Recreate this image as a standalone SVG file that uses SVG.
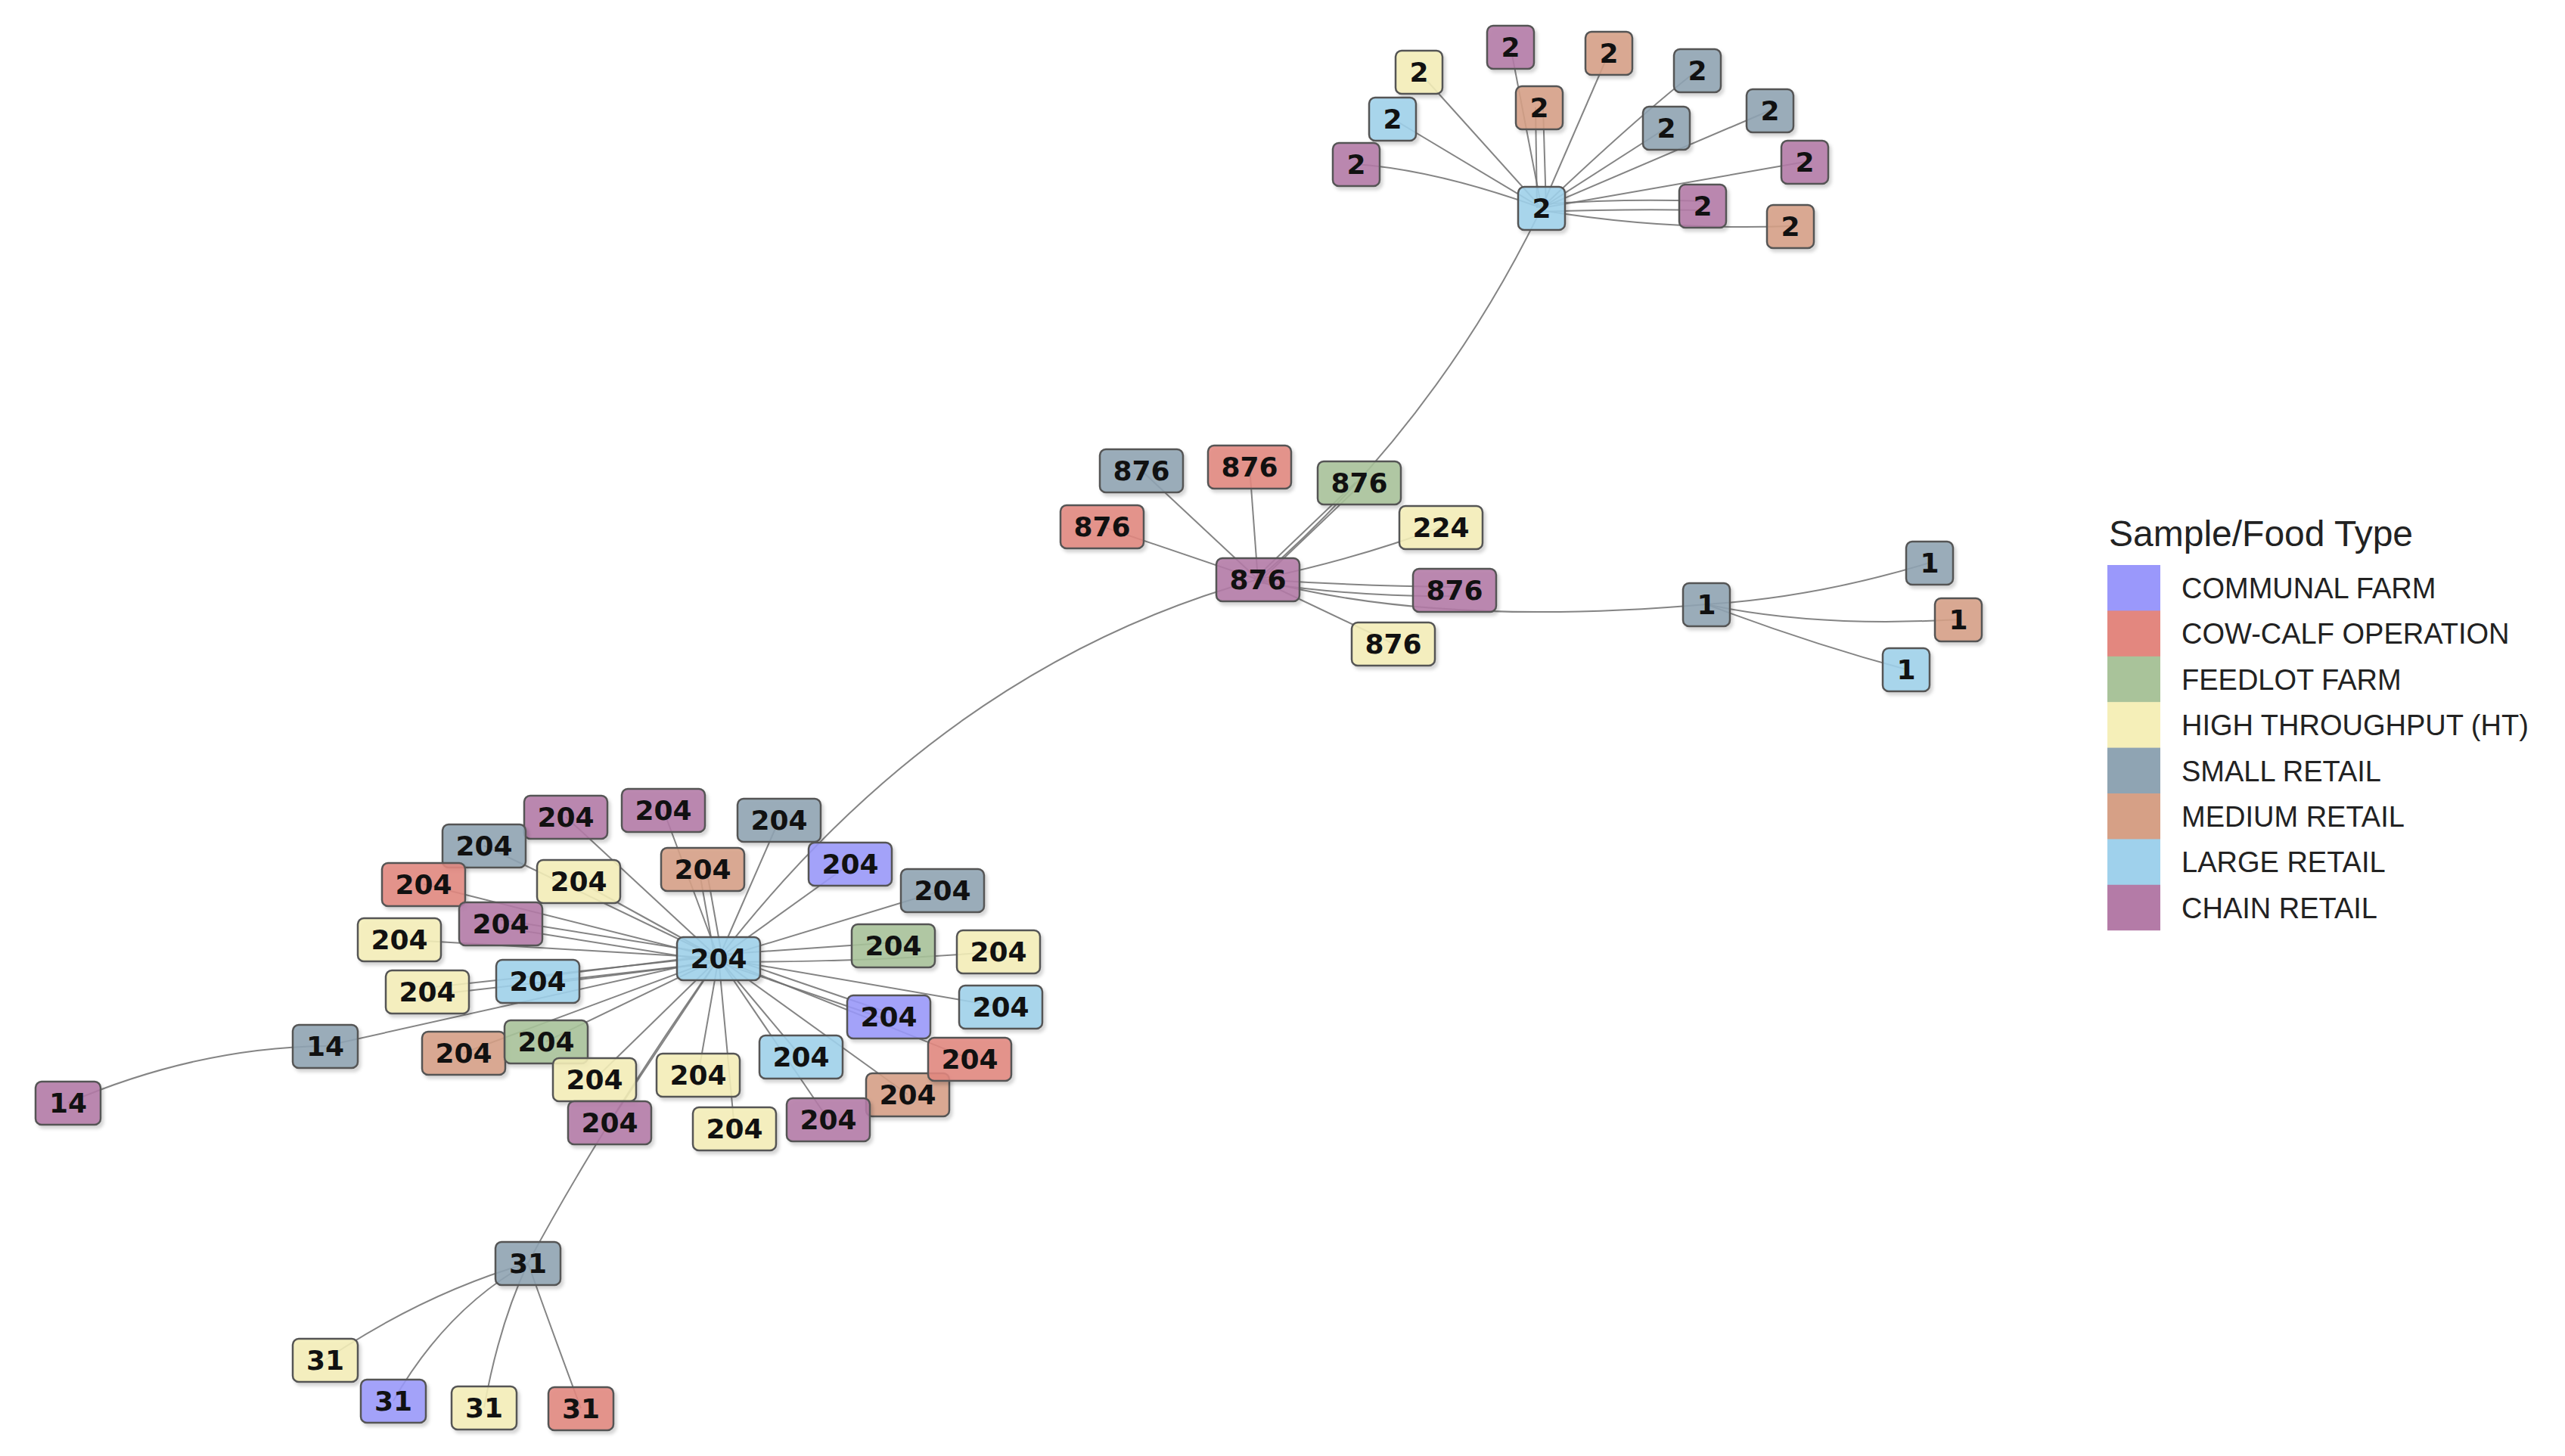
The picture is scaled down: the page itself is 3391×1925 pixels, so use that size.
<svg xmlns="http://www.w3.org/2000/svg" width="3391" height="1925" viewBox="0 0 3391 1925">
<defs>
<filter id="sh" x="-20%" y="-20%" width="150%" height="150%"><feDropShadow dx="3" dy="4" stdDeviation="2" flood-color="#000" flood-opacity="0.18"/></filter>
</defs>
<style>
.e{fill:none;stroke:#6e6e6e;stroke-width:2;stroke-opacity:0.85}
.node rect{stroke:#555;stroke-width:2.5;fill-opacity:0.88;filter:url(#sh)}
.node text{font-family:"DejaVu Sans",sans-serif;font-weight:bold;font-size:36px;fill:#111;text-anchor:middle}
.cf{fill:#9a98fb}.cc{fill:#e3877f}.fl{fill:#a9c39a}.ht{fill:#f5efb8}.sr{fill:#8fa4b3}.mr{fill:#d6a086}.lr{fill:#9fd1ec}.ch{fill:#b47ba7}
.lg{font-family:"Liberation Sans",Arial,sans-serif;fill:#222}
.ll{font-size:38px}
</style>
<rect width="3391" height="1925" fill="#fff"/>
<g id="connectors">
<path class="e" d="M2038,275 L1876,95"/>
<path class="e" d="M2038,275 L1997,62"/>
<path class="e" d="M2038,275 L2127,70"/>
<path class="e" d="M2038,275 Q2170,150 2244,93"/>
<path class="e" d="M2038,275 L1841,157"/>
<path class="e" d="M2032,275 L2030,142"/>
<path class="e" d="M2044,275 L2040,142"/>
<path class="e" d="M2038,275 L2203,169"/>
<path class="e" d="M2038,275 L2340,146"/>
<path class="e" d="M2038,275 Q1900,225 1793,217"/>
<path class="e" d="M2038,275 L2386,214"/>
<path class="e" d="M2038,270 Q2150,262 2251,266"/>
<path class="e" d="M2038,280 Q2150,276 2251,278"/>
<path class="e" d="M2038,278 Q2200,305 2367,299"/>
<path class="e" d="M2038,275 Q1900,560 1663,766"/>
<path class="e" d="M1663,766 L1509,622"/>
<path class="e" d="M1663,766 L1652,617"/>
<path class="e" d="M1658,766 L1792,638"/>
<path class="e" d="M1668,766 L1802,638"/>
<path class="e" d="M1663,766 L1457,696"/>
<path class="e" d="M1663,766 Q1790,740 1905,697"/>
<path class="e" d="M1663,766 Q1800,775 1923,776"/>
<path class="e" d="M1663,770 Q1800,790 1923,788"/>
<path class="e" d="M1663,766 L1842,851"/>
<path class="e" d="M1663,766 Q1900,830 2256,799"/>
<path class="e" d="M2256,799 Q2400,790 2551,744"/>
<path class="e" d="M2256,799 Q2400,830 2589,819"/>
<path class="e" d="M2256,799 Q2390,850 2520,885"/>
<path class="e" d="M950,1267 Q1250,880 1663,766"/>
<path class="e" d="M950,1267 L748,1080"/>
<path class="e" d="M950,1267 L877,1071"/>
<path class="e" d="M950,1267 L1030,1084"/>
<path class="e" d="M950,1267 L640,1118"/>
<path class="e" d="M945,1267 L924,1149"/>
<path class="e" d="M955,1267 L934,1149"/>
<path class="e" d="M950,1267 L1124,1142"/>
<path class="e" d="M950,1267 L1246,1177"/>
<path class="e" d="M950,1267 L560,1169"/>
<path class="e" d="M950,1267 L765,1165"/>
<path class="e" d="M950,1262 L662,1216"/>
<path class="e" d="M950,1272 L662,1226"/>
<path class="e" d="M950,1267 L528,1242"/>
<path class="e" d="M950,1262 L1181,1246"/>
<path class="e" d="M950,1272 Q1150,1272 1320,1258"/>
<path class="e" d="M950,1264 L565,1306"/>
<path class="e" d="M950,1272 L565,1316"/>
<path class="e" d="M950,1262 L711,1292"/>
<path class="e" d="M950,1272 L711,1302"/>
<path class="e" d="M950,1262 L1175,1339"/>
<path class="e" d="M950,1272 L1175,1349"/>
<path class="e" d="M950,1267 L1323,1331"/>
<path class="e" d="M950,1267 L613,1392"/>
<path class="e" d="M950,1267 L722,1377"/>
<path class="e" d="M950,1267 L1282,1400"/>
<path class="e" d="M950,1267 L1059,1397"/>
<path class="e" d="M950,1267 L786,1427"/>
<path class="e" d="M950,1267 L923,1421"/>
<path class="e" d="M950,1267 L1200,1447"/>
<path class="e" d="M950,1267 L1095,1480"/>
<path class="e" d="M950,1267 L971,1492"/>
<path class="e" d="M950,1267 L806,1484"/>
<path class="e" d="M950,1267 L430,1383"/>
<path class="e" d="M950,1267 Q800,1480 698,1670"/>
<path class="e" d="M430,1383 Q260,1385 90,1458"/>
<path class="e" d="M698,1670 Q560,1710 430,1798"/>
<path class="e" d="M698,1670 Q590,1730 520,1852"/>
<path class="e" d="M698,1670 Q660,1750 640,1861"/>
<path class="e" d="M698,1670 Q730,1760 768,1862"/>
</g>
<g id="nodes">
<g id="n2_hub" class="node"><rect class="lr" x="2007" y="247" width="62" height="57" rx="8"/><text x="2038" y="288">2</text></g>
<g id="n2_y" class="node"><rect class="ht" x="1845" y="67" width="62" height="57" rx="8"/><text x="1876" y="108">2</text></g>
<g id="n2_pa" class="node"><rect class="ch" x="1966" y="34" width="62" height="57" rx="8"/><text x="1997" y="75">2</text></g>
<g id="n2_oa" class="node"><rect class="mr" x="2096" y="42" width="62" height="57" rx="8"/><text x="2127" y="83">2</text></g>
<g id="n2_ga" class="node"><rect class="sr" x="2213" y="65" width="62" height="57" rx="8"/><text x="2244" y="106">2</text></g>
<g id="n2_b" class="node"><rect class="lr" x="1810" y="129" width="62" height="57" rx="8"/><text x="1841" y="170">2</text></g>
<g id="n2_ob" class="node"><rect class="mr" x="2004" y="114" width="62" height="57" rx="8"/><text x="2035" y="155">2</text></g>
<g id="n2_gb" class="node"><rect class="sr" x="2172" y="141" width="62" height="57" rx="8"/><text x="2203" y="182">2</text></g>
<g id="n2_gc" class="node"><rect class="sr" x="2309" y="118" width="62" height="57" rx="8"/><text x="2340" y="159">2</text></g>
<g id="n2_pb" class="node"><rect class="ch" x="1762" y="189" width="62" height="57" rx="8"/><text x="1793" y="230">2</text></g>
<g id="n2_pc" class="node"><rect class="ch" x="2355" y="186" width="62" height="57" rx="8"/><text x="2386" y="227">2</text></g>
<g id="n2_pd" class="node"><rect class="ch" x="2220" y="244" width="62" height="57" rx="8"/><text x="2251" y="285">2</text></g>
<g id="n2_oc" class="node"><rect class="mr" x="2336" y="271" width="62" height="57" rx="8"/><text x="2367" y="312">2</text></g>

<g id="n876_hub" class="node"><rect class="ch" x="1608" y="738" width="110" height="57" rx="8"/><text x="1663" y="779">876</text></g>
<g id="n876_g" class="node"><rect class="sr" x="1454" y="594" width="110" height="57" rx="8"/><text x="1509" y="635">876</text></g>
<g id="n876_r1" class="node"><rect class="cc" x="1597" y="589" width="110" height="57" rx="8"/><text x="1652" y="630">876</text></g>
<g id="n876_gr" class="node"><rect class="fl" x="1742" y="610" width="110" height="57" rx="8"/><text x="1797" y="651">876</text></g>
<g id="n876_r2" class="node"><rect class="cc" x="1402" y="668" width="110" height="57" rx="8"/><text x="1457" y="709">876</text></g>
<g id="n224" class="node"><rect class="ht" x="1850" y="669" width="110" height="57" rx="8"/><text x="1905" y="710">224</text></g>
<g id="n876_p" class="node"><rect class="ch" x="1868" y="752" width="110" height="57" rx="8"/><text x="1923" y="793">876</text></g>
<g id="n876_y" class="node"><rect class="ht" x="1787" y="823" width="110" height="57" rx="8"/><text x="1842" y="864">876</text></g>

<g id="n1_hub" class="node"><rect class="sr" x="2225" y="771" width="62" height="57" rx="8"/><text x="2256" y="812">1</text></g>
<g id="n1_g" class="node"><rect class="sr" x="2520" y="716" width="62" height="57" rx="8"/><text x="2551" y="757">1</text></g>
<g id="n1_o" class="node"><rect class="mr" x="2558" y="791" width="62" height="57" rx="8"/><text x="2589" y="832">1</text></g>
<g id="n1_b" class="node"><rect class="lr" x="2489" y="857" width="62" height="57" rx="8"/><text x="2520" y="898">1</text></g>

<g id="n204_pa" class="node"><rect class="ch" x="693" y="1052" width="110" height="57" rx="8"/><text x="748" y="1093">204</text></g>
<g id="n204_pb" class="node"><rect class="ch" x="822" y="1043" width="110" height="57" rx="8"/><text x="877" y="1084">204</text></g>
<g id="n204_ga" class="node"><rect class="sr" x="975" y="1056" width="110" height="57" rx="8"/><text x="1030" y="1097">204</text></g>
<g id="n204_gb" class="node"><rect class="sr" x="585" y="1090" width="110" height="57" rx="8"/><text x="640" y="1131">204</text></g>
<g id="n204_oa" class="node"><rect class="mr" x="874" y="1121" width="110" height="57" rx="8"/><text x="929" y="1162">204</text></g>
<g id="n204_ca" class="node"><rect class="cf" x="1069" y="1114" width="110" height="57" rx="8"/><text x="1124" y="1155">204</text></g>
<g id="n204_gc" class="node"><rect class="sr" x="1191" y="1149" width="110" height="57" rx="8"/><text x="1246" y="1190">204</text></g>
<g id="n204_ra" class="node"><rect class="cc" x="505" y="1141" width="110" height="57" rx="8"/><text x="560" y="1182">204</text></g>
<g id="n204_ya" class="node"><rect class="ht" x="710" y="1137" width="110" height="57" rx="8"/><text x="765" y="1178">204</text></g>
<g id="n204_pc" class="node"><rect class="ch" x="607" y="1193" width="110" height="57" rx="8"/><text x="662" y="1234">204</text></g>
<g id="n204_yb" class="node"><rect class="ht" x="473" y="1214" width="110" height="57" rx="8"/><text x="528" y="1255">204</text></g>
<g id="n204_gra" class="node"><rect class="fl" x="1126" y="1222" width="110" height="57" rx="8"/><text x="1181" y="1263">204</text></g>
<g id="n204_yc" class="node"><rect class="ht" x="1265" y="1230" width="110" height="57" rx="8"/><text x="1320" y="1271">204</text></g>
<g id="n204_yd" class="node"><rect class="ht" x="510" y="1283" width="110" height="57" rx="8"/><text x="565" y="1324">204</text></g>
<g id="n204_ba" class="node"><rect class="lr" x="656" y="1269" width="110" height="57" rx="8"/><text x="711" y="1310">204</text></g>
<g id="n204_cb" class="node"><rect class="cf" x="1120" y="1316" width="110" height="57" rx="8"/><text x="1175" y="1357">204</text></g>
<g id="n204_bb" class="node"><rect class="lr" x="1268" y="1303" width="110" height="57" rx="8"/><text x="1323" y="1344">204</text></g>
<g id="n204_ob" class="node"><rect class="mr" x="558" y="1364" width="110" height="57" rx="8"/><text x="613" y="1405">204</text></g>
<g id="n204_grb" class="node"><rect class="fl" x="667" y="1349" width="110" height="57" rx="8"/><text x="722" y="1390">204</text></g>
<g id="n204_bc" class="node"><rect class="lr" x="1004" y="1369" width="110" height="57" rx="8"/><text x="1059" y="1410">204</text></g>
<g id="n204_oc" class="node"><rect class="mr" x="1145" y="1419" width="110" height="57" rx="8"/><text x="1200" y="1460">204</text></g>
<g id="n204_rb" class="node"><rect class="cc" x="1227" y="1372" width="110" height="57" rx="8"/><text x="1282" y="1413">204</text></g>
<g id="n204_ye" class="node"><rect class="ht" x="731" y="1399" width="110" height="57" rx="8"/><text x="786" y="1440">204</text></g>
<g id="n204_yf" class="node"><rect class="ht" x="868" y="1393" width="110" height="57" rx="8"/><text x="923" y="1434">204</text></g>
<g id="n204_pd" class="node"><rect class="ch" x="1040" y="1452" width="110" height="57" rx="8"/><text x="1095" y="1493">204</text></g>
<g id="n204_yg" class="node"><rect class="ht" x="916" y="1464" width="110" height="57" rx="8"/><text x="971" y="1505">204</text></g>
<g id="n204_pe" class="node"><rect class="ch" x="751" y="1456" width="110" height="57" rx="8"/><text x="806" y="1497">204</text></g>
<g id="n204_hub" class="node"><rect class="lr" x="895" y="1239" width="110" height="57" rx="8"/><text x="950" y="1280">204</text></g>

<g id="n14_g" class="node"><rect class="sr" x="387" y="1355" width="86" height="57" rx="8"/><text x="430" y="1396">14</text></g>
<g id="n14_p" class="node"><rect class="ch" x="47" y="1430" width="86" height="57" rx="8"/><text x="90" y="1471">14</text></g>

<g id="n31_hub" class="node"><rect class="sr" x="655" y="1642" width="86" height="57" rx="8"/><text x="698" y="1683">31</text></g>
<g id="n31_y1" class="node"><rect class="ht" x="387" y="1770" width="86" height="57" rx="8"/><text x="430" y="1811">31</text></g>
<g id="n31_c" class="node"><rect class="cf" x="477" y="1824" width="86" height="57" rx="8"/><text x="520" y="1865">31</text></g>
<g id="n31_y2" class="node"><rect class="ht" x="597" y="1833" width="86" height="57" rx="8"/><text x="640" y="1874">31</text></g>
<g id="n31_r" class="node"><rect class="cc" x="725" y="1834" width="86" height="57" rx="8"/><text x="768" y="1875">31</text></g>
</g>
<g id="legend">
<text class="lg" x="2788" y="722" font-size="48">Sample/Food Type</text>
<rect class="cf" x="2786" y="747" width="70" height="61"/>
<rect class="cc" x="2786" y="807.4" width="70" height="61"/>
<rect class="fl" x="2786" y="867.8" width="70" height="61"/>
<rect class="ht" x="2786" y="928.2" width="70" height="61"/>
<rect class="sr" x="2786" y="988.6" width="70" height="61"/>
<rect class="mr" x="2786" y="1049" width="70" height="61"/>
<rect class="lr" x="2786" y="1109.4" width="70" height="61"/>
<rect class="ch" x="2786" y="1169.8" width="70" height="60.4"/>
<text class="lg ll" x="2884" y="791">COMMUNAL FARM</text>
<text class="lg ll" x="2884" y="851.4">COW-CALF OPERATION</text>
<text class="lg ll" x="2884" y="911.8">FEEDLOT FARM</text>
<text class="lg ll" x="2884" y="972.2">HIGH THROUGHPUT (HT)</text>
<text class="lg ll" x="2884" y="1032.6">SMALL RETAIL</text>
<text class="lg ll" x="2884" y="1093">MEDIUM RETAIL</text>
<text class="lg ll" x="2884" y="1153.4">LARGE RETAIL</text>
<text class="lg ll" x="2884" y="1213.8">CHAIN RETAIL</text>
</g>
</svg>
